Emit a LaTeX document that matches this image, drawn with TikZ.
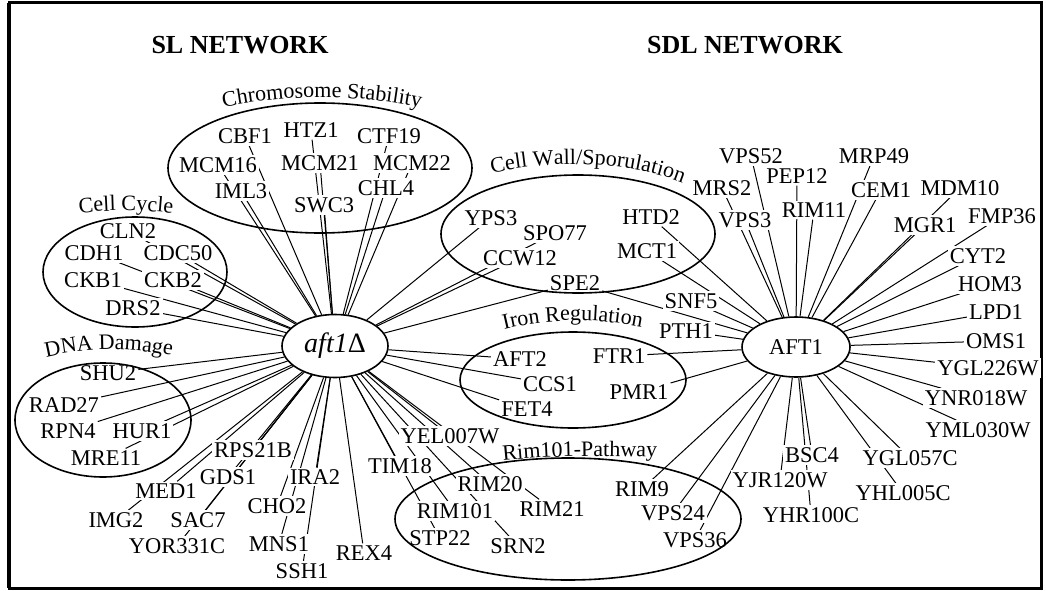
\documentclass[tikz,border=0pt]{standalone}
\usepackage{fontspec}
\setmainfont{Liberation Serif}
\usetikzlibrary{shapes.geometric,decorations.text}
\pgfdeclarelayer{edges}
\pgfsetlayers{edges,main}
\newcommand\genefont{\fontsize{22.5}{24}\selectfont}
\newcommand\grpfont{\fontsize{22}{24}\selectfont}
\newcommand\ttlfont{\fontsize{26}{28}\selectfont\bfseries}

% synthetic-lethal partners of aft1-delta: name/x/y
\def\sllist{CBF1/245/136, HTZ1/311/130, CTF19/389/136, MCM16/218/165, MCM21/320/163,
  MCM22/412/163, IML3/241/191, SWC3/324/205, CHL4/386/188,
  CLN2/128/231, CDH1/94/253, CDC50/178/253, CKB1/93/280, CKB2/173/280, DRS2/133/308,
  SHU2/108/373, RAD27/64/405, RPN4/68/431, HUR1/142/431, MRE11/106/458,
  RPS21B/253/450, MED1/166/491, GDS1/228/477, IMG2/116/520, SAC7/198/520,
  YOR331C/177/546, CHO2/277/506, IRA2/315/477, MNS1/279/544, SSH1/302/571,
  REX4/364/553, TIM18/400/466, YEL007W/450/436,
  RIM20/490/484, RIM101/455/511, STP22/440/538, SRN2/518/546, RIM21/552/509,
  YPS3/491/218, SPO77/555/233, CCW12/520/258,
  AFT2/520/359, CCS1/550/384, FET4/527/409}
% synthetic-dosage-lethal partners of AFT1: name/x/y
\def\sdllist{HTD2/651/217, MCT1/647/251, SNF5/691/301, PTH1/686/331, FTR1/619/356,
  PMR1/639/392, RIM9/642/489, VPS24/673/513, VPS36/695/540,
  VPS52/751/156, PEP12/797/176, MRP49/874/156, MRS2/722/188, CEM1/881/190,
  MDM10/960/188, RIM11/814/210, VPS3/745/220, MGR1/925/225, FMP36/1002/216,
  CYT2/978/256, HOM3/990/284, LPD1/996/312, OMS1/996/341, YGL226W/988/368,
  YNR018W/976/398, YML030W/978/430,
  YGL057C/910/458, YHL005C/903/493, BSC4/812/455, YJR120W/780/480, YHR100C/811/515}

\begin{document}
\begin{tikzpicture}[x=1pt,y=-1pt,
  gene/.style={fill=white, inner sep=2pt, font=\genefont},
  hub/.style={ellipse, draw, line width=1.6pt, fill=white, inner sep=0pt},
  grp/.style={ellipse, draw, line width=1.6pt, inner sep=0pt},
  edge/.style={line width=1pt},
  grplabel/.style={decorate, decoration={text along path, text align=center, text={|\grpfont|#1}}},
  ttl/.style={font=\ttlfont, inner sep=0pt}]
\useasboundingbox (0,0) rectangle (1046,591);
\draw[line width=3pt] (9,3) rectangle (1041,588);
\draw[line width=3pt] (8,3) -- (8,588);

% titles
\node[ttl] (sltitle) at (240,45) {SL NETWORK};
\node[ttl] (sdltitle) at (745,45) {SDL NETWORK};

% gene labels
\foreach \n/\x/\y in \sllist { \node[gene] (\n) at (\x,\y) {\n}; }
\foreach \n/\x/\y in \sdllist { \node[gene] (\n) at (\x,\y) {\n}; }
\node[gene] (SPE2) at (575,283) {SPE2};

% the two hubs
\node[hub, minimum width=106pt, minimum height=63pt, font=\fontsize{28}{30}\selectfont]
  (slhub) at (335,346) {\textit{aft1}Δ};
\node[hub, minimum width=108pt, minimum height=60pt, font=\genefont]
  (sdlhub) at (796,347) {AFT1};

% interactions
\begin{pgfonlayer}{edges}
  \foreach \n/\x/\y in \sllist { \draw[edge] (slhub) -- (\n); }
  \foreach \n/\x/\y in \sdllist { \draw[edge] (sdlhub) -- (\n); }
  \draw[edge] (slhub) -- (SPE2);
  \draw[edge] (sdlhub) -- (SPE2);
\end{pgfonlayer}

% functional groups
\node[grp, minimum width=304pt, minimum height=130pt] (chromgrp) at (320,168) {};
\node[grp, minimum width=184pt, minimum height=110pt] (cyclegrp) at (135,272) {};
\node[grp, minimum width=176pt, minimum height=114pt] (dnagrp) at (103,420) {};
\node[grp, minimum width=274pt, minimum height=118pt] (wallgrp) at (578,234) {};
\node[grp, minimum width=226pt, minimum height=96pt] (irongrp) at (573,380) {};
\node[grp, minimum width=346pt, minimum height=122pt] (rimgrp) at (568,519) {};

% group names set along arcs
\path[grplabel={Chromosome Stability}] (206,111) .. controls (285,93) and (360,93) .. (438,111);
\path[grplabel={Cell Cycle}] (66,215) .. controls (107,209) and (145,209) .. (186,215);
\path[grplabel={DNA Damage}] (32,361) .. controls (85,346) and (133,346) .. (186,359);
\path[grplabel={Cell Wall/Sporulation}] (484,175) .. controls (545,160) and (625,158) .. (690,186);
\path[grplabel={Iron Regulation}] (490,333) .. controls (545,317) and (600,317) .. (656,330);
\path[grplabel={Rim101-Pathway}] (490,462) .. controls (550,455) and (610,455) .. (670,458);
\end{tikzpicture}
\end{document}
